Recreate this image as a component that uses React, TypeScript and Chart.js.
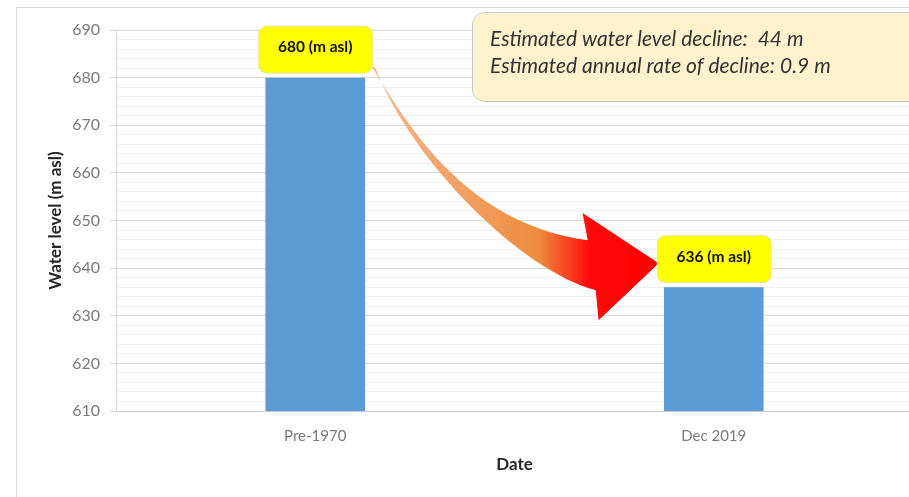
import { useEffect, useRef } from "react";
import { Chart, registerables } from "chart.js";

Chart.register(...registerables);

// Data
const categories = ["Pre-1970", "Dec 2019"];
const waterLevels = [680, 636];
const yMin = 610;
const yMax = 690;
const yMajorStep = 10;
const yMinorStep = 2;
const unitSuffix = " (m asl)";
const yTitle = "Water level (m asl)";
const xTitle = "Date";
const noteLines = [
  "Estimated water level decline:  44 m",
  "Estimated annual rate of decline: 0.9 m",
];

const FONT = "Lato, 'Noto Sans', 'DejaVu Sans', sans-serif";
const CANVAS_W = 913;
const CANVAS_H = 497;

type Box = { x: number; y: number; w: number; h: number };

function labelBox(barX: number, barTop: number): Box {
  const w = 114;
  const h = 47;
  return { x: barX - w / 2, y: barTop - 5 - h, w, h };
}

function drawCurvedArrow(
  ctx: CanvasRenderingContext2D,
  ax: number,
  ay: number,
  tx: number,
  ty: number
) {
  const dx = tx - ax;
  const dy = ty - ay;
  const p = (u: number, v: number): [number, number] => [ax + u * dx, ay + v * dy];
  const grad = ctx.createLinearGradient(ax, 0, tx, 0);
  grad.addColorStop(0, "#F4B68E");
  grad.addColorStop(0.58, "#EE8C3E");
  grad.addColorStop(0.76, "#FF0A0A");
  grad.addColorStop(1, "#FF0000");
  ctx.save();
  ctx.beginPath();
  ctx.moveTo(...p(0, 0));
  ctx.bezierCurveTo(...p(0.168, 0.423), ...p(0.378, 0.806), ...p(0.752, 0.883));
  ctx.lineTo(...p(0.734, 0.745));
  ctx.lineTo(...p(1, 1));
  ctx.lineTo(...p(0.79, 1.291));
  ctx.lineTo(...p(0.78, 1.138));
  ctx.bezierCurveTo(...p(0.517, 1.036), ...p(0.133, 0.474), ...p(0.0105, 0.005));
  ctx.closePath();
  ctx.fillStyle = grad;
  ctx.fill();
  ctx.restore();
}

const annotations = {
  id: "annotations",
  afterDatasetsDraw(chart: Chart) {
    const ctx = chart.ctx;
    const meta = chart.getDatasetMeta(0);
    const bars = meta.data as any[];
    const boxes = bars.map((b) => labelBox(b.x, b.y));

    // curved arrow from the first label to the second
    const b0 = boxes[0];
    const b1 = boxes[1];
    drawCurvedArrow(ctx, b0.x + b0.w, b0.y + b0.h - 6, b1.x + 2, b1.y + 28);

    // value labels
    const values = chart.data.datasets[0].data as number[];
    boxes.forEach((bx, i) => {
      ctx.save();
      ctx.beginPath();
      ctx.roundRect(bx.x + 0.5, bx.y + 0.5, bx.w, bx.h, 8);
      ctx.fillStyle = "#FFFF00";
      ctx.fill();
      ctx.strokeStyle = "#E6E6A8";
      ctx.lineWidth = 1;
      ctx.stroke();
      ctx.fillStyle = "#111111";
      ctx.font = `bold 15.5px ${FONT}`;
      ctx.textAlign = "center";
      ctx.textBaseline = "middle";
      ctx.fillText(`${values[i]}${unitSuffix}`, bx.x + bx.w / 2, bx.y + bx.h / 2 - 2);
      ctx.restore();
    });

    // note box
    ctx.save();
    ctx.beginPath();
    ctx.roundRect(472.5, 12.5, 470, 89, 12);
    ctx.fillStyle = "#FFF2CC";
    ctx.fill();
    ctx.strokeStyle = "#C8C8C8";
    ctx.lineWidth = 1;
    ctx.stroke();
    ctx.fillStyle = "#333333";
    ctx.font = `italic 21px ${FONT}`;
    ctx.textAlign = "left";
    ctx.textBaseline = "middle";
    noteLines.forEach((line, i) => ctx.fillText(line, 490, 39 + i * 27));
    ctx.restore();
  },
  afterDraw(chart: Chart) {
    const ctx = chart.ctx;
    ctx.save();
    ctx.strokeStyle = "#D9D9D9";
    ctx.lineWidth = 1;
    ctx.strokeRect(16.5, 7.5, 1200, 1200);
    ctx.restore();
  },
};

export default function App() {
  const canvasRef = useRef<HTMLCanvasElement | null>(null);

  useEffect(() => {
    if (!canvasRef.current) return;
    Chart.defaults.font.family = FONT;
    const chart = new Chart(canvasRef.current, {
      type: "bar",
      data: {
        labels: categories,
        datasets: [
          {
            data: waterLevels,
            backgroundColor: "#5B9BD5",
            categoryPercentage: 1,
            barPercentage: 0.25,
          },
        ],
      },
      options: {
        animation: false,
        responsive: false,
        layout: { padding: { left: 45, top: 30, right: 0, bottom: 22 } },
        plugins: {
          legend: { display: false },
          tooltip: { enabled: false },
        },
        scales: {
          x: {
            grid: { display: false, drawTicks: false, tickLength: 0 },
            border: { display: true, color: "#C8C8C8", width: 1 },
            ticks: {
              color: "#7A7A7A",
              font: { size: 15, family: FONT },
              padding: 16,
            },
            title: {
              display: true,
              text: xTitle,
              color: "#262626",
              font: { size: 17, weight: "bold", family: FONT },
              padding: { top: 0, bottom: 0 },
            },
            afterFit: (s: any) => {
              s.height = 64;
            },
          },
          y: {
            min: yMin,
            max: yMax,
            grid: {
              color: (c: any) =>
                c.tick && c.tick.value % yMajorStep === 0 ? "#D9D9D9" : "#F0F0F0",
              tickColor: (c: any) =>
                c.tick && c.tick.value % yMajorStep === 0 ? "#D9D9D9" : "rgba(0,0,0,0)",
              tickLength: 6,
            },
            border: { display: true, color: "#D9D9D9", width: 1 },
            ticks: {
              stepSize: yMinorStep,
              autoSkip: false,
              color: "#7A7A7A",
              font: { size: 16, family: FONT },
              padding: 10,
              callback: (v: any) => (Number(v) % yMajorStep === 0 ? String(v) : ""),
            },
            title: {
              display: true,
              text: yTitle,
              color: "#262626",
              font: { size: 17, weight: "bold", family: FONT },
              padding: { top: 0, bottom: 0 },
            },
            afterFit: (s: any) => {
              s.width = 71;
            },
          },
        },
      },
      plugins: [annotations],
    });
    return () => chart.destroy();
  }, []);

  return (
    <div
      style={{
        position: "fixed",
        left: 0,
        top: 0,
        width: 909,
        height: CANVAS_H,
        overflow: "hidden",
        background: "#FFFFFF",
      }}
    >
      <canvas ref={canvasRef} width={CANVAS_W} height={CANVAS_H} style={{ display: "block" }} />
    </div>
  );
}
